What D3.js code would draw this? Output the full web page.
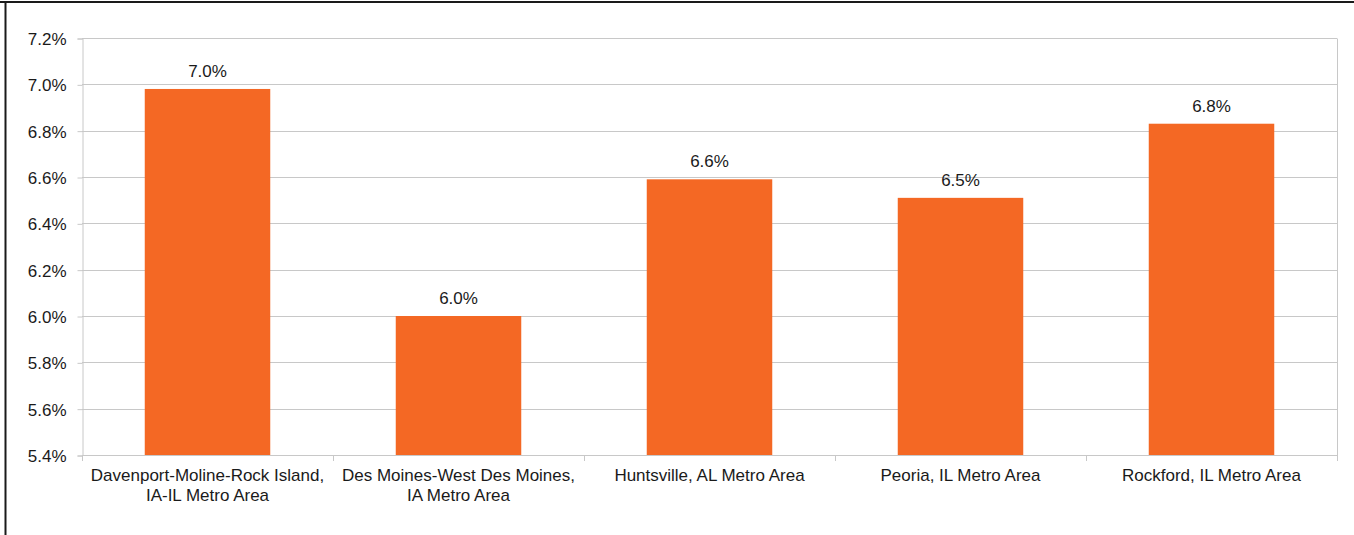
<!DOCTYPE html>
<html>
<head>
<meta charset="utf-8">
<script src="https://cdn.jsdelivr.net/npm/d3@7"></script>
<style>
  html, body { margin: 0; padding: 0; background: #fff; }
  svg { display: block; }
  text { font-family: "Liberation Sans", Arial, sans-serif; fill: #1a1a1a; }
</style>
</head>
<body>
<svg id="chart" width="1354" height="535"></svg>
<script>
// Metro areas (each label split over up to two lines)
const categories = [
  ["Davenport-Moline-Rock Island,", "IA-IL Metro Area"],
  ["Des Moines-West Des Moines,", "IA Metro Area"],
  ["Huntsville, AL Metro Area"],
  ["Peoria, IL Metro Area"],
  ["Rockford, IL Metro Area"]
];
// Rate per metro area, in percent
const values = [6.98, 6.00, 6.59, 6.51, 6.83];
// Y-axis ticks, in percent
const yTicks = [5.4, 5.6, 5.8, 6.0, 6.2, 6.4, 6.6, 6.8, 7.0, 7.2];

const W = 1354, H = 535;
const margin = { top: 38, right: 17, bottom: 80, left: 82 };
const FS = "17px";
const svg = d3.select("#chart");

// Outer frame: top and left edges
svg.append("line").attr("x1", 0).attr("x2", W).attr("y1", 2).attr("y2", 2)
  .attr("stroke", "#1a1a1a").attr("stroke-width", 2);
svg.append("line").attr("x1", 5.5).attr("x2", 5.5).attr("y1", 1).attr("y2", H)
  .attr("stroke", "#1a1a1a").attr("stroke-width", 2);

const x = d3.scaleBand()
  .domain(d3.range(categories.length))
  .range([margin.left, W - margin.right])
  .paddingInner(0.5).paddingOuter(0.25);
const y = d3.scaleLinear()
  .domain([5.4, 7.2])
  .range([H - margin.bottom, margin.top]);

const plotL = margin.left, plotR = W - margin.right;
const plotB = H - margin.bottom;

// Horizontal gridlines
svg.append("g").selectAll("line").data(yTicks.slice(1)).join("line")
  .attr("x1", plotL).attr("x2", plotR)
  .attr("y1", d => Math.round(y(d)) + 0.5).attr("y2", d => Math.round(y(d)) + 0.5)
  .attr("stroke", "#c8c8c8").attr("stroke-width", 1);
// Right edge of plot area
svg.append("line").attr("x1", plotR + 0.5).attr("x2", plotR + 0.5)
  .attr("y1", Math.round(y(7.2)) + 0.5).attr("y2", plotB + 6)
  .attr("stroke", "#c8c8c8");

// Y axis
const yAxis = d3.axisLeft(y).tickValues(yTicks)
  .tickFormat(d => d.toFixed(1) + "%").tickSize(5).tickPadding(11);
const gy = svg.append("g").attr("transform", `translate(${plotL + 0.5},0.5)`).call(yAxis);
gy.select(".domain").attr("stroke", "#c8c8c8");
gy.selectAll(".tick line").attr("stroke", "#c8c8c8");
gy.selectAll(".tick text").style("font-size", FS).attr("fill", "#1a1a1a")
  .attr("dy", "0.35em");

// Bars
svg.append("g").selectAll("rect").data(values).join("rect")
  .attr("x", (d, i) => x(i))
  .attr("width", x.bandwidth())
  .attr("y", d => y(d))
  .attr("height", d => y(5.4) - y(d))
  .attr("fill", "#f46824");

// X axis baseline and category boundary ticks
const step = (plotR - plotL) / categories.length;
svg.append("line").attr("x1", plotL).attr("x2", plotR)
  .attr("y1", plotB + 0.5).attr("y2", plotB + 0.5).attr("stroke", "#c8c8c8");
svg.append("g").selectAll("line").data(d3.range(categories.length + 1)).join("line")
  .attr("x1", i => Math.round(plotL + i * step) + 0.5)
  .attr("x2", i => Math.round(plotL + i * step) + 0.5)
  .attr("y1", plotB).attr("y2", plotB + 6)
  .attr("stroke", "#c8c8c8");

// Value labels
svg.append("g").selectAll("text").data(values).join("text")
  .attr("x", (d, i) => x(i) + x.bandwidth() / 2)
  .attr("y", d => y(d) - 12)
  .attr("text-anchor", "middle")
  .style("font-size", FS)
  .text(d => d.toFixed(1) + "%");

// Category labels
const cat = svg.append("g").selectAll("text").data(categories).join("text")
  .attr("x", (d, i) => x(i) + x.bandwidth() / 2)
  .attr("y", plotB + 26)
  .attr("text-anchor", "middle")
  .style("font-size", FS);
cat.selectAll("tspan").data(d => d).join("tspan")
  .attr("x", function () { return this.parentNode.getAttribute("x"); })
  .attr("dy", (d, i) => i === 0 ? 0 : 20)
  .text(d => d);
</script>
</body>
</html>
